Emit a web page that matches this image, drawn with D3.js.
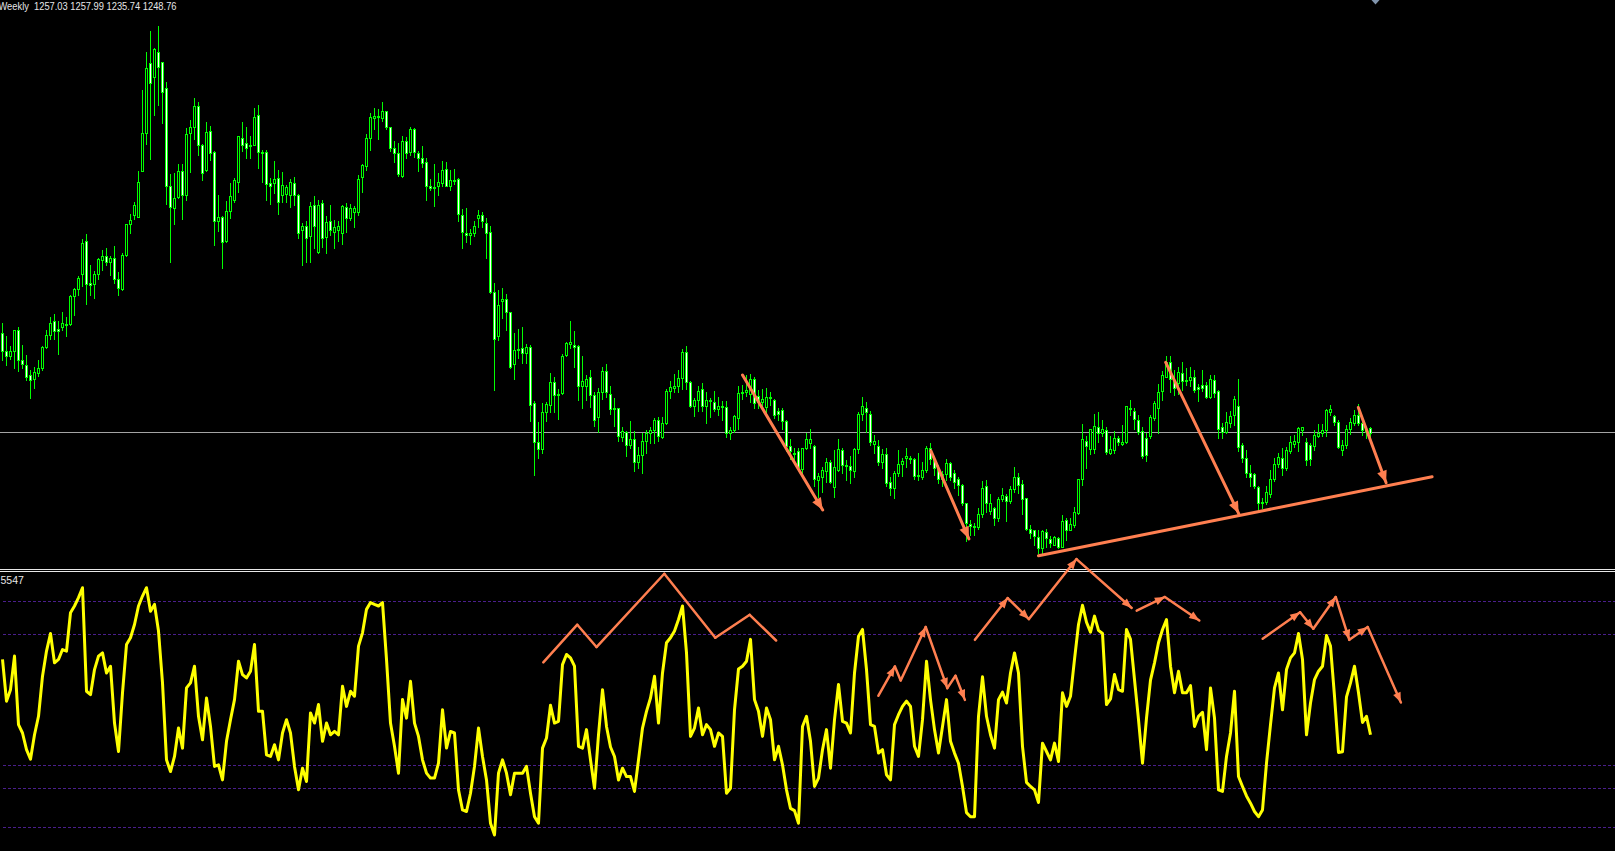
<!DOCTYPE html>
<html><head><meta charset="utf-8">
<script src="https://cdn.jsdelivr.net/npm/d3@7"></script>
<style>html,body{margin:0;padding:0;background:#000;overflow:hidden}</style>
</head><body><svg id="c" width="1615" height="851"></svg>
<script>
// ---- Weekly XAUUSD candles (one per week) ----
const open = [1414,1385,1376,1384,1419,1370,1361,1345,1338,1348,1357,1391,1411,1435,1421,1424,1430,1429,1476,1487,
1512,1568,1497,1496,1513,1536,1543,1532,1540,1504,1487,1545,1595,1610,1608,1684,1746,1863,1839,1881,
1864,1821,1658,1622,1641,1684,1643,1746,1756,1791,1726,1685,1750,1715,1600,1608,1567,1617,1636,1665,
1738,1730,1727,1727,1776,1715,1716,1664,1663,1672,1643,1645,1643,1663,1644,1585,1592,1575,1627,1549,
1630,1574,1600,1583,1585,1581,1624,1605,1616,1616,1673,1692,1738,1772,1775,1772,1783,1756,1722,1713,
1676,1733,1716,1753,1714,1706,1698,1659,1656,1658,1663,1687,1659,1668,1670,1610,1580,1577,1580,1605,
1610,1598,1582,1482,1409,1467,1471,1449,1363,1386,1390,1382,1392,1298,1234,1222,1284,1295,1333,1313,
1315,1379,1396,1394,1393,1326,1326,1342,1311,1276,1316,1352,1313,1290,1290,1242,1250,1229,1239,1201,
1212,1236,1248,1253,1270,1242,1265,1318,1324,1326,1340,1383,1333,1294,1303,1321,1294,1304,1300,1289,
1293,1292,1248,1254,1274,1315,1316,1313,1339,1310,1300,1292,1306,1303,1286,1287,1268,1227,1216,1218,
1189,1223,1232,1227,1170,1176,1185,1200,1159,1187,1221,1196,1194,1186,1222,1280,1291,1281,1230,1227,
1201,1214,1168,1157,1182,1197,1207,1208,1205,1179,1176,1188,1223,1206,1190,1172,1180,1199,1183,1173,
1162,1132,1097,1095,1093,1114,1160,1120,1125,1107,1139,1144,1136,1155,1176,1164,1140,1089,1087,1076,
1057,1085,1072,1063,1074,1060,1104,1088,1096,1116,1172,1235,1222,1222,1259,1248,1254,1215,1220,1240,
1230,1233,1288,1285,1271,1252,1240,1244,1274,1290,1319,1342,1367,1337,1331,1349,1337,1337,1341,1325,
1328,1328,1309,1337,1318,1258,1251,1265,1279,1294,1228,1207,1183,1180,1159,1134,1134,1147,1172,1197,
1208,1191,1218,1230,1234,1254,1234,1229,1227,1244,1248,1253,1283,1277,1267,1220,1228,1255,1266,1279,
1266,1254,1257.03];
const high = [1432,1410,1393,1420,1424,1395,1379,1354,1359,1370,1393,1420,1441,1446,1434,1449,1441,1477,1489,1510,
1570,1579,1527,1517,1540,1553,1555,1543,1559,1516,1547,1596,1612,1633,1683,1818,1881,1916,1888,1924,
1865,1831,1679,1680,1695,1696,1755,1769,1804,1798,1729,1765,1758,1717,1644,1609,1634,1664,1672,1742,
1765,1756,1741,1789,1793,1719,1719,1672,1700,1685,1682,1660,1670,1674,1645,1598,1601,1632,1642,1635,
1635,1609,1627,1603,1601,1628,1631,1629,1626,1677,1695,1745,1780,1789,1786,1798,1784,1757,1733,1730,
1742,1740,1756,1755,1717,1725,1705,1670,1696,1680,1700,1698,1685,1687,1672,1621,1622,1588,1601,1619,
1616,1605,1593,1497,1486,1489,1479,1450,1414,1422,1425,1396,1394,1302,1267,1299,1300,1348,1341,1322,
1380,1399,1435,1418,1394,1377,1345,1353,1317,1324,1359,1363,1327,1306,1290,1258,1252,1269,1252,1226,
1248,1254,1258,1274,1275,1275,1322,1335,1346,1354,1388,1393,1335,1306,1326,1332,1316,1306,1318,1309,
1301,1302,1259,1279,1327,1328,1345,1346,1342,1320,1322,1323,1317,1305,1291,1291,1271,1238,1224,1224,
1224,1248,1255,1229,1182,1193,1207,1204,1220,1238,1223,1204,1210,1223,1283,1308,1300,1286,1245,1237,
1222,1223,1175,1186,1220,1208,1223,1210,1208,1216,1201,1227,1232,1209,1196,1185,1205,1201,1188,1176,
1164,1132,1104,1099,1125,1169,1171,1147,1126,1142,1157,1147,1161,1192,1182,1171,1141,1096,1088,1088,
1088,1089,1077,1078,1076,1113,1107,1107,1126,1173,1264,1243,1256,1280,1284,1271,1259,1243,1252,1243,
1262,1294,1303,1290,1279,1259,1248,1279,1302,1330,1351,1377,1377,1353,1359,1367,1357,1359,1353,1330,
1353,1334,1345,1345,1320,1265,1284,1286,1310,1338,1232,1220,1196,1183,1160,1140,1160,1187,1207,1215,
1223,1226,1244,1245,1259,1259,1240,1232,1254,1263,1263,1289,1295,1278,1270,1237,1262,1273,1287,1297,
1273,1259,1257.99];
const low = [1370,1361,1372,1356,1352,1356,1337,1307,1323,1343,1354,1389,1405,1404,1380,1420,1410,1428,1444,1478,
1493,1463,1478,1472,1505,1519,1527,1511,1497,1478,1486,1542,1581,1604,1607,1683,1728,1704,1777,1793,
1764,1629,1533,1596,1639,1604,1636,1682,1737,1711,1668,1683,1702,1561,1584,1523,1566,1606,1632,1649,
1717,1706,1706,1726,1688,1665,1636,1629,1647,1613,1633,1633,1624,1627,1572,1528,1533,1532,1555,1548,
1558,1548,1577,1555,1567,1563,1583,1602,1591,1611,1648,1686,1719,1753,1737,1766,1753,1717,1699,1676,
1673,1706,1711,1707,1684,1690,1635,1652,1626,1644,1659,1658,1652,1662,1600,1556,1565,1562,1576,1591,
1591,1540,1481,1320,1403,1439,1420,1356,1338,1374,1365,1365,1269,1179,1208,1215,1269,1283,1283,1272,
1313,1377,1389,1359,1304,1291,1304,1292,1261,1251,1305,1308,1280,1261,1236,1236,1211,1224,1186,1191,
1182,1216,1232,1232,1236,1240,1264,1307,1317,1317,1322,1321,1292,1277,1286,1286,1266,1276,1285,1279,
1270,1242,1239,1251,1256,1305,1310,1300,1290,1290,1290,1280,1295,1274,1270,1255,1218,1205,1205,1190,
1183,1222,1223,1160,1143,1150,1168,1165,1142,1186,1183,1170,1166,1176,1216,1270,1251,1228,1215,1196,
1190,1161,1146,1141,1178,1178,1192,1199,1173,1170,1172,1184,1198,1179,1165,1160,1171,1171,1157,1146,
1129,1070,1079,1079,1089,1110,1118,1114,1096,1103,1135,1103,1133,1150,1149,1115,1088,1075,1063,1049,
1048,1060,1060,1062,1057,1059,1071,1087,1093,1114,1163,1190,1214,1215,1234,1243,1214,1214,1216,1229,
1229,1232,1279,1255,1247,1207,1202,1241,1270,1249,1303,1342,1317,1312,1314,1320,1328,1326,1317,1302,
1318,1307,1306,1309,1241,1241,1248,1259,1262,1219,1201,1176,1160,1157,1121,1124,1131,1143,1169,1193,
1179,1187,1215,1225,1219,1245,1196,1196,1221,1242,1244,1243,1278,1262,1223,1212,1223,1247,1262,1262,
1245,1240,1235.74];
const close = [1385,1376,1384,1419,1370,1363,1342,1336,1350,1356,1391,1411,1431,1418,1418,1431,1429,1476,1487,1506,
1564,1496,1494,1512,1538,1543,1532,1540,1504,1489,1545,1595,1602,1628,1665,1747,1854,1830,1886,1857,
1814,1658,1624,1639,1684,1643,1745,1757,1791,1726,1681,1748,1713,1600,1608,1565,1618,1642,1668,1741,
1727,1722,1725,1774,1715,1713,1662,1659,1670,1632,1660,1657,1665,1643,1580,1593,1573,1626,1593,1628,
1573,1599,1585,1591,1593,1625,1605,1622,1622,1671,1694,1738,1773,1775,1774,1783,1756,1722,1713,1678,
1733,1714,1753,1716,1706,1697,1658,1656,1657,1665,1686,1659,1668,1669,1612,1583,1577,1580,1593,1611,
1600,1581,1482,1404,1462,1471,1449,1359,1386,1388,1382,1392,1296,1233,1222,1284,1297,1333,1311,1312,
1377,1398,1399,1392,1326,1335,1338,1311,1271,1316,1351,1316,1288,1288,1243,1252,1228,1239,1201,1212,
1236,1248,1254,1270,1243,1266,1318,1325,1327,1340,1383,1334,1294,1304,1318,1294,1304,1301,1288,1294,
1292,1248,1254,1277,1315,1317,1320,1339,1299,1300,1305,1309,1309,1279,1280,1268,1227,1218,1215,1193,
1223,1238,1238,1172,1178,1188,1200,1168,1192,1222,1195,1195,1188,1222,1280,1294,1283,1233,1235,1201,
1214,1166,1157,1182,1198,1202,1211,1205,1177,1177,1188,1223,1206,1190,1172,1181,1199,1176,1167,1162,
1133,1099,1095,1093,1114,1158,1132,1132,1107,1139,1145,1136,1155,1176,1163,1139,1089,1082,1077,1057,
1086,1074,1066,1076,1059,1103,1088,1097,1117,1172,1239,1227,1255,1260,1248,1255,1217,1222,1241,1233,
1234,1293,1290,1272,1251,1211,1213,1275,1298,1317,1345,1367,1338,1323,1350,1335,1336,1341,1320,1321,
1323,1309,1338,1315,1256,1250,1267,1277,1305,1226,1207,1183,1176,1160,1133,1132,1151,1172,1197,1209,
1190,1220,1233,1235,1257,1259,1204,1206,1245,1248,1254,1287,1289,1267,1225,1229,1255,1267,1279,1266,
1253,1250,1248.76];

// ---- oscillator sub-window (one value per week) ----
const osc = [74.4,55.9,61.0,75.9,45.5,41.8,34.4,30.2,41.0,49.2,67.0,78.1,85.9,72.9,74.4,78.8,78.1,95.1,98.1,101.8,
106.2,60.3,58.8,69.9,75.9,77.3,68.4,71.4,46.2,33.6,59.6,81.0,84.0,89.9,98.1,102.5,106.2,95.8,98.8,87.0,
64.0,29.9,24.7,31.4,44.0,35.1,61.8,64.0,71.4,49.2,38.8,57.3,44.7,27.0,27.7,21.0,38.1,47.7,56.6,73.6,
67.7,66.2,69.2,81.0,51.4,51.4,32.1,31.4,36.6,29.9,41.8,47.7,41.8,27.0,16.6,26.2,20.3,50.7,46.2,54.4,
38.1,46.2,41.0,42.5,41.0,62.5,53.6,60.3,58.1,80.3,86.2,96.6,99.6,98.8,98.1,99.6,74.4,46.2,35.9,24.0,
56.6,48.4,64.7,46.2,40.3,29.9,24.0,21.8,21.8,28.4,52.1,35.1,42.5,41.8,16.6,7.7,7.0,15.1,27.0,44.0,
31.4,21.0,1.8,-3.4,24.0,29.9,24.0,14.4,24.0,24.0,24.0,27.0,15.1,4.7,1.8,35.1,39.6,54.1,46.2,47.0,
72.1,76.6,75.1,71.4,35.9,35.1,43.3,29.9,17.3,41.0,61.0,44.7,35.6,31.4,21.0,26.2,22.5,22.5,15.9,29.9,
44.0,51.4,57.3,67.0,46.2,68.4,81.8,84.0,87.0,92.1,98.1,77.3,40.3,44.0,52.9,41.0,45.5,43.3,35.9,41.8,
40.3,15.1,17.3,52.1,70.2,71.4,73.6,83.3,56.6,51.4,40.3,52.9,47.7,29.9,35.9,27.7,16.6,8.4,7.4,1.8,
44.7,49.2,38.1,18.1,21.8,34.4,43.3,26.2,47.7,63.3,47.0,46.2,41.8,68.4,84.7,87.7,69.9,45.5,44.7,32.9,
34.4,23.3,21.0,45.5,49.9,53.6,55.9,53.6,35.9,31.4,47.7,73.6,56.6,43.3,32.9,44.7,56.6,38.1,32.9,28.4,
18.1,6.5,4.7,4.7,49.2,66.7,49.2,41.0,35.1,56.6,59.9,55.1,68.4,77.3,68.4,35.9,19.9,18.1,16.6,11.0,
37.3,33.6,29.9,37.3,29.2,59.6,53.6,58.1,74.4,89.9,98.4,90.9,86.5,93.6,87.3,85.9,54.4,56.9,67.7,61.0,
60.3,87.7,83.3,65.5,47.7,28.4,48.4,65.2,72.9,81.8,87.7,92.1,71.4,59.6,69.2,59.6,59.6,62.8,44.7,49.2,
51.0,34.4,61.8,48.4,16.6,15.9,31.4,41.8,60.3,22.5,18.1,13.9,10.7,7.0,4.7,7.7,28.4,45.5,61.8,68.4,
52.1,69.9,75.1,77.3,85.9,74.4,41.0,55.1,65.5,69.2,71.4,85.0,80.3,58.1,33.2,33.5,57.8,64.0,71.4,59.6,
46.5,49.2,41.0];
const oscLevels = [100, 85.3, 27.6, 17.2, 0];

// ---- header / labels ----
const headerText = "Weekly  1257.03 1257.99 1235.74 1248.76";
const oscLabel = "5547";
const bid = 1248.76;

// ---- hand-drawn annotations: [week index, price] / [week index, osc value] ----
const priceArrows = [
  [[185.0,1345],[205.05,1121]],
  [[232.1,1219],[241.6,1073]],
  [[290.8,1366],[309.05,1115]],
  [[338.95,1291],[345.9,1166]]
];
const priceTrend = [[259,1045],[357.4,1176]];
const oscPaths = [
  {pts:[[135.2,73.1],[143.7,89.8],[148.5,79.9],[165.45,112.4],[178.2,84.0],[186.8,94.2],[193.4,82.8]], arrows:[0,0,0,0,0,0]},
  {pts:[[218.95,58.3],[223.1,71.3],[224.55,65.1],[230.8,88.8],[236.2,61.7],[238.25,67.2],[240.6,56.5]], arrows:[1,0,1,1,0,1]},
  {pts:[[243.1,83.1],[251.3,101.6],[256.6,92.3],[268.5,118.9],[282.3,97.2]], arrows:[1,1,1,1]},
  {pts:[[283.55,96.0],[290.6,102.1],[299.2,91.7]], arrows:[1,1]},
  {pts:[[315.05,83.6],[324.4,95.3],[327.7,88.0],[333.3,102.1],[336.7,83.1],[341.3,88.8],[349.6,55.3]], arrows:[1,1,1,1,1,1]}
];

// ================= drawing =================
const W = 1615, H = 851;
const svg = d3.select('#c');
svg.append('rect').attr('width', W).attr('height', H).attr('fill', '#000');

const N = close.length;
const x = d3.scaleLinear().domain([0, N - 1]).range([2.5, 2.5 + 4 * (N - 1)]);
const y = d3.scaleLinear().domain([1024.6, 1967.5]).range([568, 0]);
const yo = d3.scaleLinear().domain([0, 100]).range([827.3, 601.7]);
const px = v => Math.floor(v) + 0.5;

const ORANGE = '#ff7f50';

// bid line
svg.append('line').attr('x1', 0).attr('x2', W)
  .attr('y1', px(y(bid))).attr('y2', px(y(bid)))
  .attr('stroke', '#a4a4a4').attr('stroke-width', 1);

// candles
const bars = d3.range(N).map(i => ({i, o: open[i], h: high[i], l: low[i], c: close[i]}));
const gc = svg.append('g');
gc.selectAll('line.wick').data(bars).join('line').attr('class', 'wick')
  .attr('x1', d => x(d.i)).attr('x2', d => x(d.i))
  .attr('y1', d => Math.round(y(d.h))).attr('y2', d => Math.round(y(d.l)) + 1)
  .attr('stroke', '#00ff00').attr('stroke-width', 1);
gc.selectAll('rect.body').data(bars).join('rect').attr('class', 'body')
  .attr('x', d => x(d.i) - 1).attr('width', 2)
  .attr('y', d => Math.round(y(Math.max(d.o, d.c))) + 0.5)
  .attr('height', d => Math.max(1, Math.round(y(Math.min(d.o, d.c))) - Math.round(y(Math.max(d.o, d.c)))))
  .attr('fill', d => d.c >= d.o ? '#000' : '#fff')
  .attr('stroke', '#00ff00').attr('stroke-width', 1);

// arrow helper
function arrow(g, x0, y0, x1, y1, sw, L, Wd, head) {
  g.append('line').attr('x1', x0).attr('y1', y0).attr('x2', x1).attr('y2', y1)
    .attr('stroke', ORANGE).attr('stroke-width', sw).attr('stroke-linecap', 'round');
  if (head) {
    const dx = x1 - x0, dy = y1 - y0, len = Math.hypot(dx, dy);
    const ux = dx / len, uy = dy / len;
    const bx = x1 - ux * L, by = y1 - uy * L;
    const nx = -uy * Wd / 2, ny = ux * Wd / 2;
    g.append('polygon')
      .attr('points', `${x1},${y1} ${bx + nx},${by + ny} ${bx - nx},${by - ny}`)
      .attr('fill', ORANGE);
  }
}

const ga = svg.append('g');
ga.append('line')
  .attr('x1', x(priceTrend[0][0])).attr('y1', y(priceTrend[0][1]))
  .attr('x2', x(priceTrend[1][0])).attr('y2', y(priceTrend[1][1]))
  .attr('stroke', ORANGE).attr('stroke-width', 3).attr('stroke-linecap', 'round');
priceArrows.forEach(a => arrow(ga, x(a[0][0]), y(a[0][1]), x(a[1][0]), y(a[1][1]), 3, 12, 10, true));

// separator
[569.5, 571.5].forEach(v => svg.append('line').attr('x1', 0).attr('x2', W).attr('y1', v).attr('y2', v)
  .attr('stroke', '#e8e8e8').attr('stroke-width', 1));

// oscillator levels
svg.append('g').selectAll('line').data(oscLevels).join('line')
  .attr('x1', 3).attr('x2', W)
  .attr('y1', d => px(yo(d))).attr('y2', d => px(yo(d)))
  .attr('stroke', '#4a1e8c').attr('stroke-width', 1).attr('stroke-dasharray', '3,2');

// oscillator line
svg.append('path').datum(osc)
  .attr('d', d3.line().x((d, i) => x(i)).y(d => yo(d)))
  .attr('fill', 'none').attr('stroke', '#ffff00').attr('stroke-width', 3)
  .attr('stroke-linejoin', 'round');

// oscillator annotations
const go = svg.append('g');
oscPaths.forEach(p => {
  for (let k = 0; k < p.pts.length - 1; k++) {
    const a = p.pts[k], b = p.pts[k + 1];
    arrow(go, x(a[0]), yo(a[1]), x(b[0]), yo(b[1]), 2.5, 10, 8, p.arrows[k]);
  }
});

// texts
svg.append('text').attr('x', -1.5).attr('y', 10).attr('xml:space', 'preserve')
  .attr('font-family', 'Liberation Sans, Arial, sans-serif').attr('font-size', 10)
  .attr('textLength', 178).attr('lengthAdjust', 'spacingAndGlyphs')
  .attr('fill', '#e6e6e6').text(headerText);
svg.append('text').attr('x', 0.5).attr('y', 584)
  .attr('font-family', 'Liberation Sans, Arial, sans-serif').attr('font-size', 10.5)
  .attr('fill', '#e6e6e6').text(oscLabel);

// chart-shift marker
const mx = x(N - 1) + 5;
svg.append('polygon').attr('points', `${mx - 4},0 ${mx + 4},0 ${mx},4.5`).attr('fill', '#8094ac');
</script>
</body></html>
